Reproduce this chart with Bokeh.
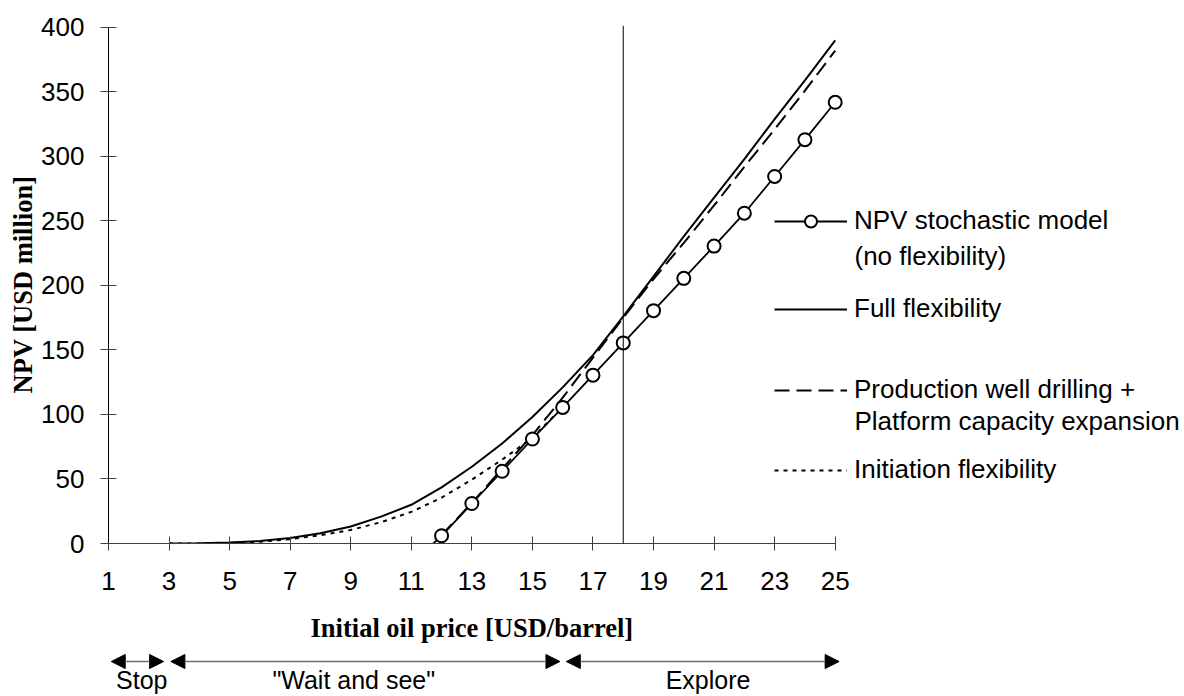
from bokeh.plotting import figure
from bokeh.models import (Range1d, FixedTicker, Span, Legend, LegendItem, Label,
                          Arrow, NormalHead, ColumnDataSource)
from bokeh.layouts import column
from bokeh.embed import file_html
from bokeh.resources import INLINE
from bokeh.core.properties import value

# ---------------- data ----------------
x_ticks = [1, 3, 5, 7, 9, 11, 13, 15, 17, 19, 21, 23, 25]
y_ticks = [0, 50, 100, 150, 200, 250, 300, 350, 400]

stoch_price = [11, 12, 13, 14, 15, 16, 17, 18, 19, 20, 21, 22, 23, 24, 25]
stoch_npv = [-16, 6, 31, 56, 81, 105.5, 130.5, 155.5, 180.5, 205.5, 230.5, 256, 284.5, 313, 342]

full_price = [3, 4, 5, 6, 7, 8, 9, 10, 11, 12, 13, 14, 15, 16, 17, 18, 19, 20, 21, 22, 23, 24, 25]
full_npv = [0, 0.2, 0.7, 2, 4.3, 8, 13.2, 20.8, 30, 43.5, 59.5, 77.5, 98, 121, 146, 176,
            207, 238, 268, 298, 329, 359, 390]

prod_price = [12, 13, 14, 15, 16, 17, 18, 19, 20, 21, 22, 23, 24, 25]
prod_npv = [6.5, 31.5, 58, 84, 113, 144, 175, 205, 233, 262, 292, 321, 351, 382]

init_price = [3, 4, 5, 6, 7, 8, 9, 10, 11, 12, 13, 14, 15, 16]
init_npv = [0, 0.1, 0.4, 1.3, 3.4, 6.4, 10.5, 16.5, 24.5, 35.5, 49.5, 65, 82, 105.5]

decision_price = 18

x_title = "Initial oil price [USD/barrel]"
y_title = "NPV [USD million]"

regions = ["Stop", '"Wait and see"', "Explore"]
region_start = [1.09, 3.06, 16.12]
region_end = [2.82, 15.91, 25.13]
region_label_x = [2.1, 9.1, 20.8]

legend_stoch = ["NPV stochastic model", "(no flexibility)"]
legend_full = ["Full flexibility"]
legend_prod = ["Production well drilling +", "Platform capacity expansion"]
legend_init = ["Initiation flexibility"]

# ---------------- layout constants ----------------
SANS = "Liberation Sans"
SERIF = "Liberation Serif"
FS = "26px"
W = 1184
TOTAL_H = 696
LEFT = 108
TOP = 25
MAIN_H = 605
BOTTOM = 62
FRAME_BOTTOM = MAIN_H - BOTTOM  # canvas y of frame bottom
PX_PER_UNIT = 726.7 / 24

p = figure(width=W, height=MAIN_H, output_backend="svg", toolbar_location=None,
           x_range=Range1d(1, 1 + (W - LEFT) / PX_PER_UNIT), y_range=Range1d(0, 401.5),
           min_border_left=LEFT, min_border_right=0, min_border_top=TOP,
           min_border_bottom=BOTTOM)
p.outline_line_color = None
p.grid.visible = False
p.background_fill_color = "white"
p.border_fill_color = "white"

# x axis
xa = p.xaxis[0]
xa.ticker = FixedTicker(ticks=x_ticks)
xa.bounds = (x_ticks[0], x_ticks[-1])
xa.major_label_text_font = SANS
xa.major_label_text_font_size = FS
xa.major_label_text_color = "black"
xa.major_label_standoff = 21
xa.major_tick_in = 7
xa.major_tick_out = 7
xa.minor_tick_in = 0
xa.minor_tick_out = 0
xa.axis_line_color = "#404040"
xa.major_tick_line_color = "#404040"

# y axis
ya = p.yaxis[0]
ya.ticker = FixedTicker(ticks=y_ticks)
ya.bounds = (y_ticks[0], y_ticks[-1])
ya.axis_label = y_title
ya.axis_label_text_font = SERIF
ya.axis_label_text_font_style = "bold"
ya.axis_label_text_font_size = "26.5px"
ya.axis_label_text_color = "black"
ya.axis_label_standoff = 0
ya.major_label_text_font = SANS
ya.major_label_text_font_size = FS
ya.major_label_text_color = "black"
ya.major_label_standoff = 16
ya.major_tick_in = 8
ya.major_tick_out = 8
ya.minor_tick_in = 0
ya.minor_tick_out = 0
ya.axis_line_color = "black"
ya.major_tick_line_color = "#404040"

# decision line
p.add_layout(Span(location=decision_price, dimension="height", line_color="black",
                  line_width=1))

# series
r_init = p.line(init_price, init_npv, line_color="black", line_width=2, line_dash="4 5")
r_prod = p.line(prod_price, prod_npv, line_color="black", line_width=2, line_dash="15 7")
r_full = p.line(full_price, full_npv, line_color="black", line_width=2)
r_stoch = p.line(stoch_price, stoch_npv, line_color="black", line_width=1.8)
r_stoch_m = p.scatter(stoch_price, stoch_npv, marker="circle", size=13,
                      fill_color="white", line_color="black", line_width=2)

# legends (one per entry, to reproduce the uneven spacing)
LEG_X = 666          # glyph start relative to frame left
LEG_H = 30
TEXT_X = 746         # text start relative to frame left


def add_entry(lines, renderers, cy, second_cy=None):
    leg = Legend(items=[LegendItem(label=lines[0], renderers=renderers)],
                 location=(LEG_X, FRAME_BOTTOM - cy - LEG_H // 2),
                 glyph_width=73, glyph_height=LEG_H, label_height=LEG_H,
                 label_standoff=7, padding=0, margin=0, spacing=0,
                 border_line_color=None, background_fill_alpha=0,
                 label_text_font=SANS, label_text_font_size=FS,
                 label_text_color="black")
    p.add_layout(leg)
    if len(lines) > 1:
        p.add_layout(Label(x=TEXT_X, y=FRAME_BOTTOM - second_cy, x_units="screen",
                           y_units="screen", text=lines[1], text_baseline="middle",
                           text_font=SANS, text_font_size=FS, text_color="black"))


add_entry(legend_stoch, [r_stoch, r_stoch_m], 221, 255)
add_entry(legend_full, [r_full], 309)
add_entry(legend_prod, [r_prod], 390, 420)
add_entry(legend_init, [r_init], 470)

# ---------------- x title + decision region strip ----------------
STRIP_H = TOTAL_H - MAIN_H
p2 = figure(width=W, height=STRIP_H, output_backend="svg", toolbar_location=None,
            x_range=p.x_range, y_range=Range1d(0, STRIP_H),
            min_border_left=LEFT, min_border_right=0, min_border_top=0,
            min_border_bottom=0, x_axis_location=None, y_axis_location=None)
p2.outline_line_color = None
p2.grid.visible = False
p2.background_fill_color = "white"
p2.border_fill_color = "white"

# x-axis title, centred under the axis
p2.text(x=[(x_ticks[0] + x_ticks[-1]) / 2], y=[STRIP_H - 22], text=[x_title],
        text_align="center", text_baseline="middle", text_font=value(SERIF),
        text_font_style=value("bold"), text_font_size=value("26.5px"),
        text_color="black")

arrow_src = ColumnDataSource(dict(x0=region_start, x1=region_end,
                                  y0=[STRIP_H - 56] * 3, y1=[STRIP_H - 56] * 3))
p2.add_layout(Arrow(start=NormalHead(size=14, fill_color="black", line_color="black"),
                    end=NormalHead(size=14, fill_color="black", line_color="black"),
                    x_start="x0", y_start="y0", x_end="x1", y_end="y1",
                    source=arrow_src, line_color="#707070", line_width=1.5))

p2.text(x=region_label_x, y=[STRIP_H - 74] * 3, text=regions, text_align="center",
        text_baseline="middle", text_font=value(SANS),
        text_font_size=value("25px"), text_color="black")

layout = column(p, p2)
open("out.html", "w").write(file_html(layout, INLINE, title="NPV vs initial oil price"))
